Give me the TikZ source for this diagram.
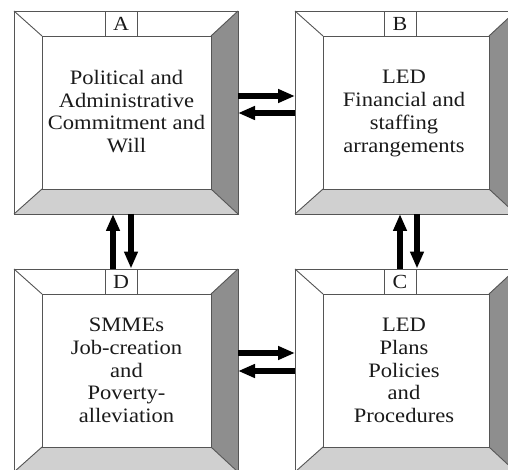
\documentclass[tikz,border=0pt]{standalone}
\usepackage{fontspec}
\setmainfont{Liberation Serif}
\newfontfamily\labfont[FakeStretch=1.1]{Liberation Serif}
\usetikzlibrary{calc,arrows.meta}
\definecolor{edge}{HTML}{555555}
\definecolor{darkbev}{HTML}{8E8E8E}
\definecolor{lightbev}{HTML}{D0D0D0}
\definecolor{ink}{HTML}{1A1A1A}
\tikzset{
  bevline/.style={draw=edge, line width=0.9pt, line join=miter},
  tabbox/.style={draw=edge, line width=0.9pt, fill=white, minimum width=32pt, minimum height=25pt, inner sep=0pt, text=ink, font=\labfont\fontsize{20}{22}\selectfont},
  txt/.style={align=center, text=ink, inner sep=0pt, font=\labfont\fontsize{20.5}{22.8}\selectfont},
  arr/.style={line width=6pt, -{Triangle[length=17pt,width=13pt]}, black},
}
\newcommand{\bevbox}[7]{% name, x1, y1, x2, y2, tab x, tab letter
  \coordinate (#1-a) at (#2,#3);
  \coordinate (#1-b) at (#4,#3);
  \coordinate (#1-c) at (#4,#5);
  \coordinate (#1-d) at (#2,#5);
  \coordinate (#1-ia) at ($(#1-a)+(28,25)$);
  \coordinate (#1-ib) at ($(#1-b)+(-27,25)$);
  \coordinate (#1-ic) at ($(#1-c)+(-27,-25)$);
  \coordinate (#1-id) at ($(#1-d)+(28,-25)$);
  \fill[white] (#1-a) -- (#1-b) -- (#1-ib) -- (#1-ia) -- cycle;
  \fill[white] (#1-a) -- (#1-ia) -- (#1-id) -- (#1-d) -- cycle;
  \fill[darkbev] (#1-b) -- (#1-c) -- (#1-ic) -- (#1-ib) -- cycle;
  \fill[lightbev] (#1-d) -- (#1-id) -- (#1-ic) -- (#1-c) -- cycle;
  \draw[bevline] (#1-a) -- (#1-ia) (#1-b) -- (#1-ib) (#1-c) -- (#1-ic) (#1-d) -- (#1-id);
  \draw[bevline, fill=white] (#1-ia) rectangle (#1-ic);
  \draw[bevline] (#1-a) rectangle (#1-c);
  \node[tabbox] (#1-tab) at ($(#6,#3)+(0,12.5)$) {#7};
}
\begin{document}
\begin{tikzpicture}[x=1pt,y=-1pt]
\useasboundingbox (0,0) rectangle (508,470);
\begin{scope}
\clip (0,0) rectangle (508,470);
\bevbox{A}{14}{11}{238}{214}{121}{A}
\bevbox{B}{295}{11}{516}{214}{400}{B}
\bevbox{D}{14}{269}{238}{472}{121}{D}
\bevbox{C}{295}{269}{516}{472}{400}{C}
\end{scope}
\node[txt] (At) at (126.5,111.5) {Political and\\Administrative\\Commitment and\\Will};
\node[txt] (Bt) at (404,113.5) {LED\\Financial and\\staffing\\arrangements};
\node[txt] (Dt) at (126.5,370.5) {SMMEs\\Job-creation\\and\\Poverty-\\alleviation};
\node[txt] (Ct) at (404,370.5) {LED\\Plans\\Policies\\and\\Procedures};
% horizontal arrows
\draw[arr] ($(A-b)+(0,85)$) -- ($(B-a)+(0,85)$);
\draw[arr] ($(B-a)+(0,102)$) -- ($(A-b)+(0,102)$);
\draw[arr] ($(D-b)+(0,84)$) -- ($(C-a)+(0,84)$);
\draw[arr] ($(C-a)+(0,102)$) -- ($(D-b)+(0,102)$);
% vertical arrows
\draw[arr] (D-tab.north -| 113,0) -- (A-d -| 113,0);
\draw[arr] (A-d -| 131,0) -- (D-tab.north -| 131,0);
\draw[arr] (C-tab.north -| 400,0) -- (B-d -| 400,0);
\draw[arr] (B-d -| 417,0) -- (C-tab.north -| 417,0);
\end{tikzpicture}
\end{document}
